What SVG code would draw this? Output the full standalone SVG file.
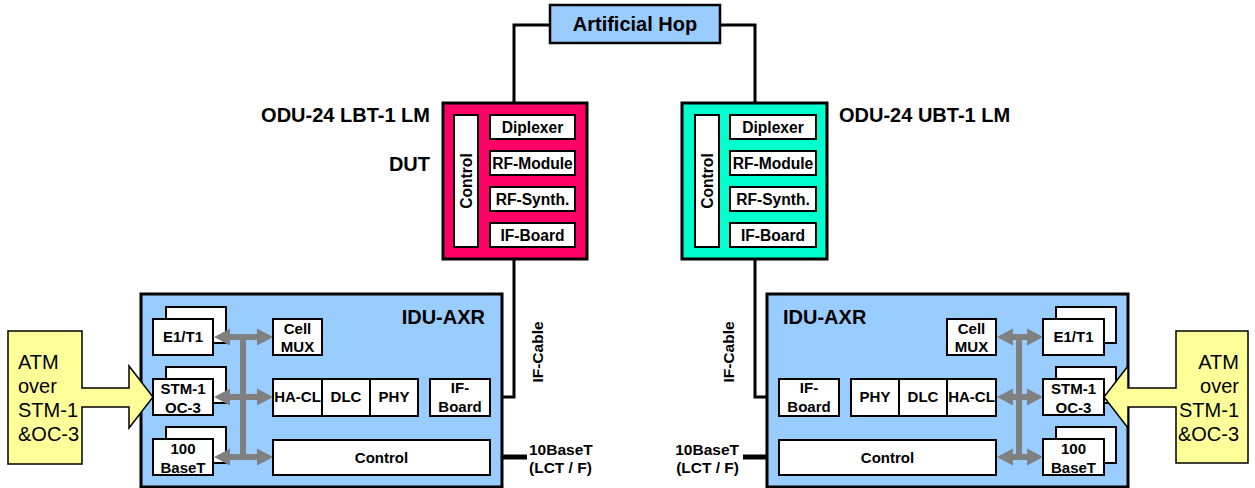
<svg xmlns="http://www.w3.org/2000/svg" width="1255" height="488" viewBox="0 0 1255 488">
<style>
text{font-family:"Liberation Sans",Arial,sans-serif;font-weight:bold;fill:#000}
.lbl{font-size:15px;text-anchor:middle}
.odl{font-size:15.6px;text-anchor:middle}
.side{font-size:15.5px}
.end{text-anchor:end}
.big{font-size:20px}
.atm{font-size:20px;font-weight:normal}
.ib{fill:#fff;stroke:#000;stroke-width:2}
.ob{stroke:#000;stroke-width:3}
.wire{fill:none;stroke:#000;stroke-width:3}
.thick{fill:none;stroke:#000;stroke-width:5}
.gray{fill:#808080}
.yel{fill:#FFFF99;stroke:#000;stroke-width:1.5}
</style>
<rect width="1255" height="488" fill="#fff"/>
<g id="connectors">
<path class="wire" d="M550,25 H514 V103"/>
<path class="wire" d="M720,25 H755 V103"/>
<path class="wire" d="M514,259 V397 H490"/>
<path class="wire" d="M755,259 V397 H779"/>
<path class="thick" d="M418,397 H430"/>
<path class="thick" d="M839,397 H851"/>
<path class="thick" d="M490,457 H527"/>
<path class="thick" d="M743,457 H779"/>
</g>
<g id="artificial-hop">
<rect x="550" y="5" width="170" height="38" fill="#99CCFF" stroke="#000" stroke-width="2.5"/>
<text class="big" x="635" y="31" text-anchor="middle">Artificial Hop</text>
</g>
<g id="odu-left">
<rect class="ob" x="443" y="103" width="144" height="156" fill="#FF0066"/>
<rect class="ib" x="454" y="115" width="24" height="132"/>
<text class="odl" transform="translate(471.5,181) rotate(-90)">Control</text>
<rect class="ib" x="490" y="115" width="85" height="24"/>
<text class="odl" x="532.5" y="133">Diplexer</text>
<rect class="ib" x="490" y="151" width="85" height="24"/>
<text class="odl" x="532.5" y="169">RF-Module</text>
<rect class="ib" x="490" y="187" width="85" height="24"/>
<text class="odl" x="532.5" y="205">RF-Synth.</text>
<rect class="ib" x="490" y="223" width="85" height="24"/>
<text class="odl" x="532.5" y="241">IF-Board</text>
<text class="big end" x="430" y="122">ODU-24 LBT-1 LM</text>
<text class="big end" x="430" y="171">DUT</text>
</g>
<g id="odu-right">
<rect class="ob" x="682" y="103" width="145" height="156" fill="#00FFCC"/>
<rect class="ib" x="695" y="115" width="24" height="132"/>
<text class="odl" transform="translate(712.5,181) rotate(-90)">Control</text>
<rect class="ib" x="730" y="115" width="86" height="24"/>
<text class="odl" x="773" y="133">Diplexer</text>
<rect class="ib" x="730" y="151" width="86" height="24"/>
<text class="odl" x="773" y="169">RF-Module</text>
<rect class="ib" x="730" y="187" width="86" height="24"/>
<text class="odl" x="773" y="205">RF-Synth.</text>
<rect class="ib" x="730" y="223" width="86" height="24"/>
<text class="odl" x="773" y="241">IF-Board</text>
<text class="big" x="839" y="122">ODU-24 UBT-1 LM</text>
</g>
<g id="idu-left">
<rect class="ob" x="141" y="294" width="361" height="193" fill="#99CCFF"/>
<text class="big end" x="485" y="324">IDU-AXR</text>
<rect class="ib" x="166" y="307" width="60" height="36"/>
<rect class="ib" x="153" y="319" width="60" height="36"/>
<text class="lbl" x="183" y="342">E1/T1</text>
<rect class="ib" x="166" y="367" width="60" height="36"/>
<rect class="ib" x="153" y="379" width="60" height="36"/>
<text class="lbl" x="183" y="394">STM-1</text>
<text class="lbl" x="183" y="413">OC-3</text>
<rect class="ib" x="166" y="427" width="60" height="36"/>
<rect class="ib" x="153" y="439" width="60" height="36"/>
<text class="lbl" x="183" y="454">100</text>
<text class="lbl" x="183" y="473">BaseT</text>
<rect class="gray" x="240" y="337" width="6" height="120"/>
<path class="gray" d="M214,337 l16,-8.5 v5.5 h27 v-5.5 l16,8.5 l-16,8.5 v-5.5 h-27 v5.5 z"/>
<path class="gray" d="M214,397 l16,-8.5 v5.5 h27 v-5.5 l16,8.5 l-16,8.5 v-5.5 h-27 v5.5 z"/>
<path class="gray" d="M214,457 l16,-8.5 v5.5 h27 v-5.5 l16,8.5 l-16,8.5 v-5.5 h-27 v5.5 z"/>
<rect class="ib" x="273" y="319" width="49" height="36"/>
<text class="lbl" x="297.5" y="334">Cell</text>
<text class="lbl" x="297.5" y="352">MUX</text>
<rect class="ib" x="273" y="379" width="49" height="37"/>
<text class="lbl" x="297.5" y="402">HA-CL</text>
<rect class="ib" x="322" y="379" width="48" height="37"/>
<text class="lbl" x="346" y="402">DLC</text>
<rect class="ib" x="370" y="379" width="48" height="37"/>
<text class="lbl" x="394" y="402">PHY</text>
<rect class="ib" x="430" y="379" width="60" height="37"/>
<text class="lbl" x="460" y="393">IF-</text>
<text class="lbl" x="460" y="412">Board</text>
<rect class="ib" x="273" y="440" width="217" height="35"/>
<text class="lbl" x="381.5" y="463">Control</text>
</g>
<g id="idu-right">
<rect class="ob" x="767" y="294" width="361" height="193" fill="#99CCFF"/>
<text class="big" x="783" y="324">IDU-AXR</text>
<rect class="ib" x="1056" y="307" width="60" height="36"/>
<rect class="ib" x="1043" y="319" width="61" height="36"/>
<text class="lbl" x="1073.5" y="342">E1/T1</text>
<rect class="ib" x="1056" y="367" width="60" height="36"/>
<rect class="ib" x="1043" y="379" width="61" height="36"/>
<text class="lbl" x="1073.5" y="394">STM-1</text>
<text class="lbl" x="1073.5" y="413">OC-3</text>
<rect class="ib" x="1056" y="427" width="60" height="36"/>
<rect class="ib" x="1043" y="439" width="61" height="36"/>
<text class="lbl" x="1073.5" y="454">100</text>
<text class="lbl" x="1073.5" y="473">BaseT</text>
<rect class="gray" x="1016" y="337" width="6" height="120"/>
<path class="gray" d="M997,337 l16,-8.5 v5.5 h14 v-5.5 l16,8.5 l-16,8.5 v-5.5 h-14 v5.5 z"/>
<path class="gray" d="M997,397 l16,-8.5 v5.5 h14 v-5.5 l16,8.5 l-16,8.5 v-5.5 h-14 v5.5 z"/>
<path class="gray" d="M997,457 l16,-8.5 v5.5 h14 v-5.5 l16,8.5 l-16,8.5 v-5.5 h-14 v5.5 z"/>
<rect class="ib" x="947" y="319" width="49" height="36"/>
<text class="lbl" x="971.5" y="334">Cell</text>
<text class="lbl" x="971.5" y="352">MUX</text>
<rect class="ib" x="779" y="379" width="60" height="37"/>
<text class="lbl" x="809" y="393">IF-</text>
<text class="lbl" x="809" y="412">Board</text>
<rect class="ib" x="851" y="379" width="48" height="37"/>
<text class="lbl" x="875" y="402">PHY</text>
<rect class="ib" x="899" y="379" width="48" height="37"/>
<text class="lbl" x="923" y="402">DLC</text>
<rect class="ib" x="947" y="379" width="49" height="37"/>
<text class="lbl" x="971.5" y="402">HA-CL</text>
<rect class="ib" x="779" y="440" width="217" height="35"/>
<text class="lbl" x="887.5" y="463">Control</text>
</g>
<g id="atm-left">
<path class="yel" d="M8,331 H82 V388 H129 V366 L153,397 L129,428 V407 H82 V464 H8 Z"/>
<text class="atm" x="18" y="369">ATM</text>
<text class="atm" x="18" y="393">over</text>
<text class="atm" x="18" y="417">STM-1</text>
<text class="atm" x="18" y="441">&amp;OC-3</text>
</g>
<g id="atm-right">
<path class="yel" d="M1248,331 H1176 V388 H1128 V366 L1104,397 L1128,428 V407 H1176 V463 H1248 Z"/>
<text class="atm end" x="1239" y="369">ATM</text>
<text class="atm end" x="1239" y="393">over</text>
<text class="atm end" x="1239" y="417">STM-1</text>
<text class="atm end" x="1239" y="441">&amp;OC-3</text>
</g>
<g id="labels">
<text class="side" text-anchor="middle" transform="translate(543,352) rotate(-90)">IF-Cable</text>
<text class="side" text-anchor="middle" transform="translate(734,352) rotate(-90)">IF-Cable</text>
<text class="side" x="529" y="455">10BaseT</text>
<text class="side" x="529" y="473">(LCT / F)</text>
<text class="side end" x="739" y="455">10BaseT</text>
<text class="side end" x="739" y="473">(LCT / F)</text>
</g>
</svg>
